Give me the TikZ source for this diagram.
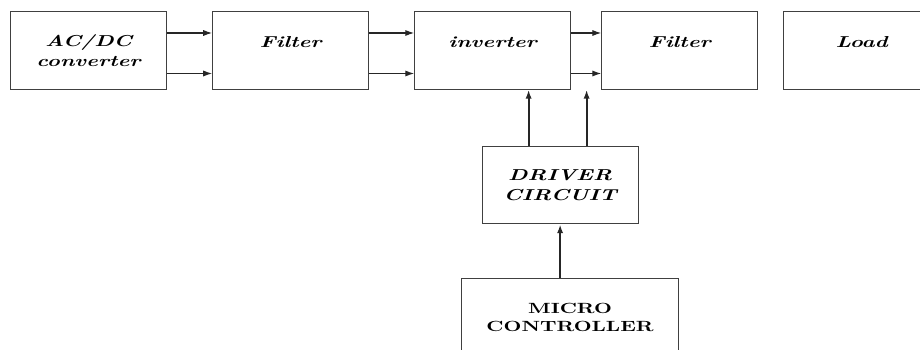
\documentclass[tikz,border=0pt]{standalone}
\usepackage{fontspec}
\usetikzlibrary{arrows.meta,positioning}

% wide bold serif used in the blocks
\newfontfamily\blockfont[Extension=.otf,
  UprightFont=lmroman10-regular, BoldFont=lmroman10-bold,
  ItalicFont=lmroman10-italic, BoldItalicFont=lmroman10-bolditalic,
  FakeStretch=1.4]{lmroman10}

\begin{document}
\begin{tikzpicture}[%
    x=0.2mm, y=-0.2mm,
    >={Latex[length=5pt,width=3.5pt]},
    node distance=9mm,
    block/.style={draw=black!75, line width=0.6pt, minimum width=31.2mm,
      minimum height=15.5mm, align=center,
      font=\blockfont\fontsize{9}{11}\selectfont\bfseries\itshape},
    upper/.style={text depth=10pt},
    link/.style={->, color=black!85, line width=0.6pt},
    ctrl/.style={->, color=black!85, line width=1.1pt}
  ]
    \useasboundingbox (0,0) rectangle (920,350);
    \clip (0,0) rectangle (920,350);

    % power path
    \node[block] (acdc) at (88.5,50.5) {AC/DC\\converter};
    \node[block, upper] (filt1) [right=of acdc] {Filter};
    \node[block, upper] (inv)   [right=of filt1] {inverter};
    \node[block, upper] (filt2) [right=6mm of inv] {Filter};
    \node[block, upper] (load)  [right=5mm of filt2] {Load};

    % control side
    \node[block] (drv) [below=11.2mm of inv, xshift=13.5mm] {DRIVER\\CIRCUIT};
    \node[block, minimum width=43.4mm, font=\blockfont\fontsize{8.4}{10.6}\selectfont\bfseries]
      (mcu) [below=10.8mm of drv, xshift=2mm] {MICRO\\CONTROLLER};

    \coordinate (g1) at ([xshift=-6.3mm]drv.north);
    \coordinate (g2) at ([xshift=5.3mm]drv.north);

    \path[link] ([yshift=3.5mm]acdc.east)   edge ([yshift=3.5mm]filt1.west)
                ([yshift=-4.6mm]acdc.east)  edge ([yshift=-4.6mm]filt1.west)
                ([yshift=3.5mm]filt1.east)  edge ([yshift=3.5mm]inv.west)
                ([yshift=-4.6mm]filt1.east) edge ([yshift=-4.6mm]inv.west)
                ([yshift=3.5mm]inv.east)    edge ([yshift=3.5mm]filt2.west)
                ([yshift=-4.6mm]inv.east)   edge ([yshift=-4.6mm]filt2.west);

    \path[ctrl] (g1) edge (g1 |- inv.south)
                (g2) edge (g2 |- inv.south)
                (drv.south |- mcu.north) edge (drv.south);
  \end{tikzpicture}
\end{document}
